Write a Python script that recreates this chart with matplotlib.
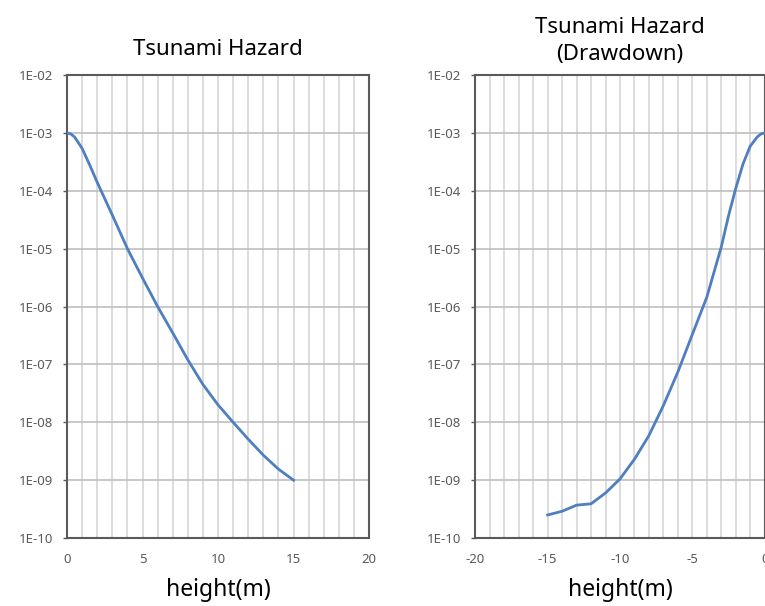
import numpy as np
import matplotlib
matplotlib.use("Agg")
import matplotlib.pyplot as plt
from matplotlib.ticker import MultipleLocator, FixedLocator, FuncFormatter, NullLocator

plt.rcParams["font.family"] = ["Noto Sans", "DejaVu Sans"]
plt.rcParams["axes.unicode_minus"] = False

# run-up hazard curve (height in m, annual exceedance probability)
RUNUP_HEIGHT = [0, 0.25, 0.5, 1, 1.5, 2, 3, 4, 5, 6, 7, 8, 9, 10, 11, 12, 13, 14, 15]
RUNUP_PROB = [1.0e-3, 9.6e-4, 8.5e-4, 5.4e-4, 2.8e-4, 1.4e-4, 3.8e-5, 1.0e-5, 3.1e-6,
              1.0e-6, 3.5e-7, 1.2e-7, 4.5e-8, 2.0e-8, 1.0e-8, 5.1e-9, 2.7e-9, 1.55e-9,
              1.0e-9]

# drawdown hazard curve
DRAW_HEIGHT = [-15, -14, -13, -12, -11, -10, -9, -8, -7, -6, -5, -4, -3, -2.5, -2,
               -1.5, -1, -0.5, -0.25, 0]
DRAW_PROB = [2.5e-10, 2.9e-10, 3.7e-10, 3.9e-10, 6.0e-10, 1.05e-9, 2.3e-9, 5.9e-9,
             1.95e-8, 7.4e-8, 3.3e-7, 1.45e-6, 1.07e-5, 3.7e-5, 1.1e-4,
             2.9e-4, 5.9e-4, 8.6e-4, 9.6e-4, 1.0e-3]

TITLES = ["Tsunami Hazard", "Tsunami Hazard\n(Drawdown)"]
XLABEL = "height(m)"
Y_DECADES = [1e-10, 1e-9, 1e-8, 1e-7, 1e-6, 1e-5, 1e-4, 1e-3, 1e-2]

LINE_COLOR = "#4f7fc0"
SPINE_COLOR = "#5a5a5a"
TICK_COLOR = "#595959"


def sci_label(v, pos):
    exp = int(round(np.log10(v)))
    return f"1E{exp:+03d}".replace("+", "")


def style_axis(ax, xlim):
    ax.set_yscale("log")
    ax.set_ylim(1e-10, 1e-2)
    ax.set_xlim(*xlim)
    ax.yaxis.set_major_locator(FixedLocator(Y_DECADES))
    ax.yaxis.set_minor_locator(NullLocator())
    ax.yaxis.set_major_formatter(FuncFormatter(sci_label))
    ax.xaxis.set_major_locator(MultipleLocator(5))
    ax.xaxis.set_minor_locator(MultipleLocator(1))
    ax.grid(axis="x", which="both", color="#d9d9d9", linewidth=1.3, zorder=0)
    ax.grid(axis="y", which="major", color="#bfbfbf", linewidth=1.2, zorder=0)
    ax.tick_params(axis="y", which="major", direction="out", length=3, width=1,
                   color=SPINE_COLOR, labelsize=9.5, labelcolor=TICK_COLOR, pad=7)
    ax.tick_params(axis="x", which="major", direction="out", length=0,
                   labelsize=9.5, labelcolor=TICK_COLOR, pad=10.5)
    ax.tick_params(axis="x", which="minor", length=0)
    for sp in ax.spines.values():
        sp.set_color(SPINE_COLOR)
        sp.set_linewidth(1.5)
    ax.set_axisbelow(True)


fig = plt.figure(figsize=(7.65, 6.06), dpi=100)
ax1 = fig.add_axes([0.0876, 0.1122, 0.3948, 0.764])
ax2 = fig.add_axes([0.6213, 0.1122, 0.3783, 0.764])

ax1.plot(RUNUP_HEIGHT, RUNUP_PROB, color=LINE_COLOR, linewidth=2.0, zorder=3)
style_axis(ax1, (0, 20))
ax1.set_title(TITLES[0], fontsize=16, pad=14.5)

ax2.plot(DRAW_HEIGHT, DRAW_PROB, color=LINE_COLOR, linewidth=2.0, zorder=3,
         clip_on=False)
style_axis(ax2, (-20, 0))
ax2.set_title(TITLES[1], fontsize=16, pad=10.5, linespacing=1.4)

for ax in (ax1, ax2):
    ax.set_xlabel(XLABEL, fontsize=16.5, labelpad=9)

fig.savefig("out.png", dpi=100)
